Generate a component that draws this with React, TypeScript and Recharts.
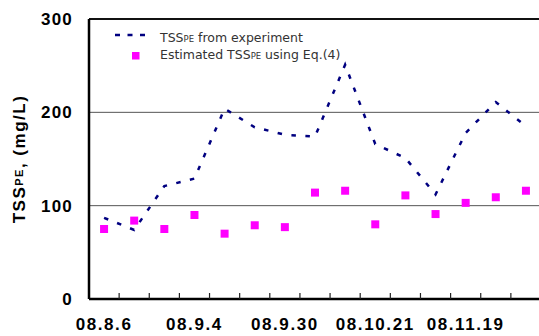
import {
  ComposedChart,
  Line,
  Scatter,
  XAxis,
  YAxis,
  CartesianGrid,
  ReferenceLine,
  Legend,
} from "recharts";

// sampling dates (only every third one is labelled on the axis)
const dates = [
  "08.8.6", "", "", "08.9.4", "", "", "08.9.30", "", "",
  "08.10.21", "", "", "08.11.19", "", "",
];
const tssExperiment = [87, 74, 121, 129, 204, 184, 176, 174, 251, 166, 151, 112, 178, 211, 185];
const tssEstimated = [75, 84, 75, 90, 70, 79, 77, 114, 116, 80, 111, 91, 103, 109, 116];
const yTicks = [0, 100, 200, 300];

const NAVY = "#000080";
const MAGENTA = "#FF00FF";
const X_TICK_SIZE = 6;
const X_TICK_MARGIN = 2;

const data = dates.map((d, i) => ({
  x: i + 0.5,
  date: d,
  exp: tssExperiment[i],
  est: tssEstimated[i],
}));

// tick marks sit between categories, labels sit on the category centre
const boundaryTicks = dates.slice(1).map((_, i) => i + 1);
const labelTicks = dates.map((d, i) => (d ? i + 0.5 : -1)).filter((v) => v >= 0);
const xTicks = [...boundaryTicks, ...labelTicks].sort((a, b) => a - b);

function XTick({ x, y, payload }: any) {
  const v = payload.value as number;
  const axisY = y - X_TICK_SIZE - X_TICK_MARGIN;
  if (Number.isInteger(v)) {
    return <line x1={x} x2={x} y1={axisY} y2={axisY - 6} stroke="#222" strokeWidth={1.2} />;
  }
  return (
    <text
      x={x}
      y={axisY + 31}
      textAnchor="middle"
      fontFamily="'Liberation Sans', Arial, sans-serif"
      fontWeight="bold"
      fontSize={17}
      letterSpacing={1.6}
      fill="#000"
    >
      {dates[Math.floor(v)]}
    </text>
  );
}

function YLabel({ viewBox }: any) {
  const cx = (viewBox?.x ?? 0) + 19;
  const cy = (viewBox?.y ?? 19) + (viewBox?.height ?? 280) / 2;
  return (
    <text
      x={cx}
      y={cy}
      transform={`rotate(-90, ${cx}, ${cy})`}
      textAnchor="middle"
      dominantBaseline="central"
      fontFamily="'Liberation Sans', Arial, sans-serif"
      fontWeight="bold"
      fontSize={17}
      letterSpacing={1.5}
      fill="#000"
    >
      TSS<tspan fontSize={11}>PE</tspan>, (mg/L)
    </text>
  );
}

function LegendBox() {
  const font = { fontFamily: "'DejaVu Sans', sans-serif", fontSize: 12.5, fill: "#333" };
  return (
    <svg width={260} height={40} style={{ display: "block" }}>
      <line x1={15} x2={45} y1={11} y2={11} stroke={NAVY} strokeWidth={2.5} strokeDasharray="5 7.5" />
      <text x={60} y={17.5} {...font}>
        TSS<tspan fontSize={8.5}>PE</tspan> from experiment
      </text>
      <rect x={32} y={28} width={7.5} height={7.5} fill={MAGENTA} />
      <text x={60} y={34.5} {...font}>
        Estimated TSS<tspan fontSize={8.5}>PE</tspan> using Eq.(4)
      </text>
    </svg>
  );
}

export default function App() {
  return (
    <div
      style={{
        position: "fixed",
        top: 0,
        left: 0,
        width: 539,
        height: 336,
        overflow: "hidden",
        background: "#fff",
      }}
    >
      <ComposedChart
        width={560}
        height={336}
        data={data}
        margin={{ top: 19, right: 19, bottom: 7, left: 0 }}
        style={{ fontFamily: "'Liberation Sans', Arial, sans-serif" }}
      >
        <CartesianGrid vertical={false} stroke="#555" strokeWidth={1} />
        <XAxis
          dataKey="x"
          type="number"
          domain={[0, 15]}
          ticks={xTicks}
          interval={0}
          tick={<XTick />}
          tickLine={false}
          tickSize={X_TICK_SIZE}
          tickMargin={X_TICK_MARGIN}
          height={30}
          axisLine={{ stroke: "#000", strokeWidth: 2.5 }}
        />
        <YAxis
          type="number"
          domain={[0, 300]}
          ticks={yTicks}
          interval={0}
          width={89}
          tickLine={false}
          tickSize={0}
          tickMargin={16}
          axisLine={{ stroke: "#000", strokeWidth: 2.5 }}
          tick={{ fontSize: 17, fontWeight: "bold", fill: "#000", letterSpacing: 1.2 }}
          label={<YLabel />}
        />
        <ReferenceLine y={300} stroke="#111" strokeWidth={2} />
        <Line
          type="linear"
          dataKey="exp"
          stroke={NAVY}
          strokeWidth={2.5}
          strokeDasharray="4.5 9.5"
          dot={false}
          activeDot={false}
          isAnimationActive={false}
        />
        <Scatter dataKey="est" fill={MAGENTA} shape="square" isAnimationActive={false} />
        <Legend
          verticalAlign="middle"
          align="center"
          layout="horizontal"
          content={<LegendBox />}
          wrapperStyle={{ top: 24, left: 100, width: 260, height: 40 }}
        />
      </ComposedChart>
    </div>
  );
}
